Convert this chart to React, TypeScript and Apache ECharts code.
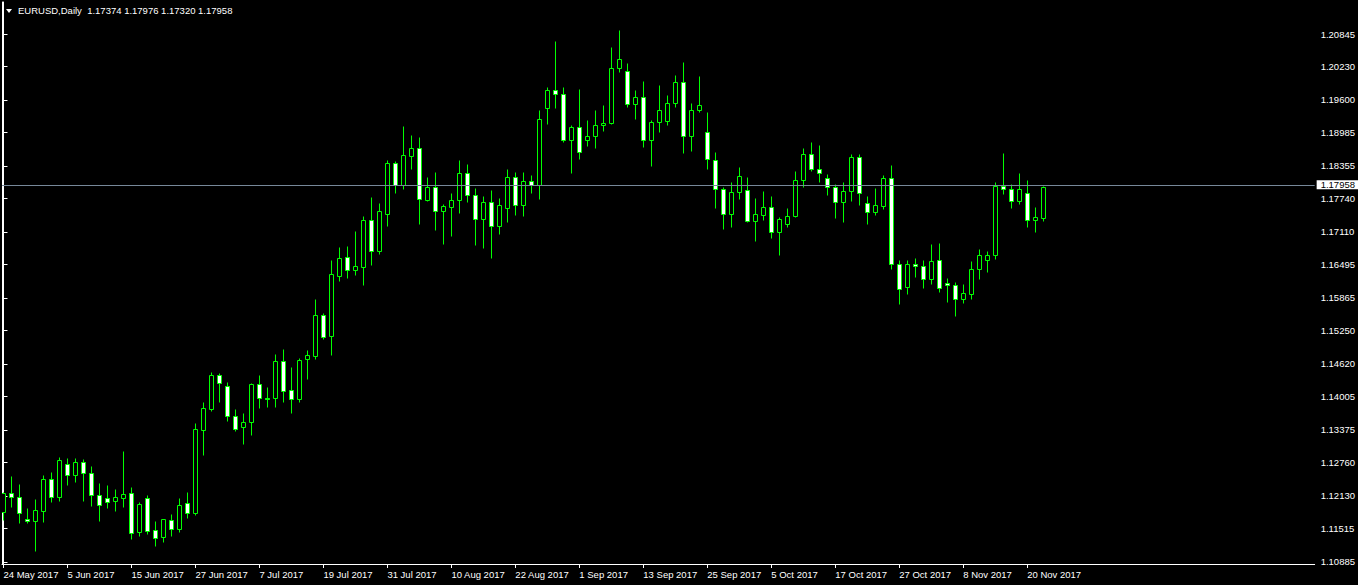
import React, { useEffect, useRef } from "react";
import * as echarts from "echarts";

// ---- data (EURUSD Daily, from 24 May 2017, one bar per weekday) ----
const opens = [
  1.11820, 1.12179, 1.12103, 1.11688, 1.11651, 1.11851, 1.12443, 1.12115, 1.12726, 1.12530,
  1.12764, 1.12556, 1.12141, 1.12085, 1.12028, 1.12096, 1.12179, 1.11443, 1.12085, 1.11481,
  1.11349, 1.11670, 1.11511, 1.11990, 1.11813, 1.13379, 1.13775, 1.14405, 1.14198, 1.13632,
  1.13436, 1.13519, 1.14236, 1.13983, 1.13983, 1.14670, 1.14122, 1.13964, 1.14719, 1.14775,
  1.15537, 1.15153, 1.16285, 1.16632, 1.16398, 1.16454, 1.17330, 1.16756, 1.17454, 1.18405,
  1.18002, 1.18549, 1.18688, 1.17719, 1.17953, 1.17500, 1.17575, 1.17707, 1.18217, 1.17802,
  1.17349, 1.17670, 1.17217, 1.17556, 1.18141, 1.17613, 1.18066, 1.17990, 1.19443, 1.19783,
  1.19707, 1.18839, 1.19085, 1.18839, 1.18915, 1.19122, 1.19160, 1.20209, 1.20141, 1.19519,
  1.19651, 1.18839, 1.19179, 1.19209, 1.19537, 1.19934, 1.18915, 1.19405, 1.18990, 1.18462,
  1.17915, 1.17443, 1.17858, 1.17896, 1.17311, 1.17424, 1.17575, 1.17103, 1.17254, 1.17405,
  1.18085, 1.18575, 1.18292, 1.18122, 1.17953, 1.17670, 1.17877, 1.18519, 1.17651, 1.17481,
  1.17594, 1.18122, 1.16500, 1.16066, 1.16500, 1.16462, 1.16217, 1.16575, 1.16141, 1.16104,
  1.15851, 1.15945, 1.16405, 1.16575, 1.16670, 1.17971, 1.17915, 1.17688, 1.17839, 1.17330,
  1.17374,
];
const highs = [
  1.12209, 1.12505, 1.12354, 1.11896, 1.12066, 1.12524, 1.12581, 1.12858, 1.12845, 1.12845,
  1.12820, 1.12694, 1.12373, 1.12336, 1.12260, 1.12977, 1.12298, 1.12015, 1.12147, 1.11656,
  1.11695, 1.11788, 1.12090, 1.12203, 1.13505, 1.13902, 1.14468, 1.14443, 1.14279, 1.13770,
  1.13694, 1.14254, 1.14411, 1.14185, 1.14807, 1.14902, 1.14562, 1.14732, 1.14883, 1.15845,
  1.15575, 1.16581, 1.16826, 1.16845, 1.17128, 1.17411, 1.17764, 1.17656, 1.18462, 1.18443,
  1.19109, 1.18939, 1.18902, 1.18147, 1.18241, 1.17632, 1.17839, 1.18468, 1.18392, 1.17934,
  1.17783, 1.17896, 1.17745, 1.18298, 1.18236, 1.18236, 1.18185, 1.19411, 1.19839, 1.20713,
  1.19839, 1.19128, 1.19807, 1.19222, 1.19411, 1.19505, 1.20600, 1.20920, 1.20298, 1.19783,
  1.19953, 1.19217, 1.19877, 1.19688, 1.20071, 1.20317, 1.19537, 1.20047, 1.19373, 1.18619,
  1.17964, 1.18047, 1.18330, 1.18141, 1.17745, 1.17877, 1.17783, 1.17387, 1.17556, 1.18254,
  1.18688, 1.18802, 1.18745, 1.18198, 1.18009, 1.18047, 1.18581, 1.18581, 1.17783, 1.17934,
  1.18179, 1.18368, 1.16575, 1.16575, 1.16613, 1.16575, 1.16883, 1.16902, 1.16236, 1.16166,
  1.16128, 1.16562, 1.16788, 1.16745, 1.18053, 1.18600, 1.18009, 1.18222, 1.18085, 1.17575,
  1.17976,
];
const lows = [
  1.11675, 1.11926, 1.11613, 1.11613, 1.11096, 1.11643, 1.12020, 1.12034, 1.12336, 1.12392,
  1.12034, 1.11945, 1.11662, 1.11907, 1.11851, 1.11926, 1.11317, 1.11379, 1.11411, 1.11190,
  1.11266, 1.11379, 1.11454, 1.11718, 1.11769, 1.12902, 1.13737, 1.13907, 1.13549, 1.13354,
  1.13115, 1.13285, 1.13788, 1.13807, 1.13807, 1.13907, 1.13694, 1.13907, 1.14341, 1.14713,
  1.15090, 1.14788, 1.16185, 1.16241, 1.16298, 1.16109, 1.16487, 1.16694, 1.17222, 1.17851,
  1.17920, 1.18298, 1.17266, 1.17700, 1.17153, 1.16888, 1.17039, 1.17473, 1.17681, 1.16870,
  1.16813, 1.16624, 1.17077, 1.17304, 1.17436, 1.17405, 1.17839, 1.17732, 1.19153, 1.19454,
  1.18802, 1.18228, 1.18492, 1.18726, 1.18688, 1.19015, 1.19141, 1.20134, 1.19473, 1.19247,
  1.18719, 1.18360, 1.19002, 1.19134, 1.19473, 1.18605, 1.18643, 1.19368, 1.18304, 1.17568,
  1.17171, 1.17209, 1.17726, 1.17292, 1.16945, 1.17341, 1.16990, 1.16681, 1.17198, 1.17387,
  1.17953, 1.18254, 1.18047, 1.17802, 1.17368, 1.17292, 1.17688, 1.17624, 1.17254, 1.17424,
  1.17537, 1.16405, 1.15745, 1.15934, 1.16254, 1.16058, 1.16122, 1.15983, 1.15794, 1.15530,
  1.15775, 1.15851, 1.16228, 1.16360, 1.16605, 1.17832, 1.17568, 1.17643, 1.17209, 1.17115,
  1.17320,
];
const closes = [
  1.12190, 1.12103, 1.11802, 1.11651, 1.11858, 1.12443, 1.12115, 1.12801, 1.12530, 1.12764,
  1.12556, 1.12141, 1.11953, 1.12020, 1.12103, 1.12160, 1.11436, 1.11971, 1.11473, 1.11341,
  1.11688, 1.11511, 1.11953, 1.11813, 1.13386, 1.13783, 1.14405, 1.14254, 1.13632, 1.13398,
  1.13519, 1.14236, 1.13983, 1.13964, 1.14670, 1.14115, 1.13964, 1.14688, 1.14788, 1.15537,
  1.15134, 1.16311, 1.16613, 1.16398, 1.16468, 1.17330, 1.16756, 1.17500, 1.18405, 1.18002,
  1.18556, 1.18688, 1.17726, 1.17953, 1.17500, 1.17594, 1.17707, 1.18217, 1.17802, 1.17349,
  1.17670, 1.17217, 1.17613, 1.18141, 1.17613, 1.18066, 1.17990, 1.19236, 1.19783, 1.19707,
  1.18839, 1.19085, 1.18613, 1.18915, 1.19128, 1.19160, 1.20198, 1.20373, 1.19519, 1.19651,
  1.18839, 1.19179, 1.19405, 1.19537, 1.19934, 1.18915, 1.19405, 1.19500, 1.18481, 1.17915,
  1.17443, 1.17858, 1.18160, 1.17311, 1.17443, 1.17575, 1.17103, 1.17349, 1.17405, 1.18085,
  1.18575, 1.18292, 1.18217, 1.17953, 1.17670, 1.17877, 1.18519, 1.17839, 1.17481, 1.17613,
  1.18122, 1.16500, 1.16028, 1.16500, 1.16462, 1.16217, 1.16556, 1.16047, 1.16104, 1.15851,
  1.15953, 1.16405, 1.16670, 1.16670, 1.17971, 1.17915, 1.17688, 1.17915, 1.17330, 1.17387,
  1.17958,
];

const symbolName = "EURUSD,Daily";
const firstDate = [2017, 4, 24]; // 24 May 2017 (month is 0-based)
const monthNames = ["Jan", "Feb", "Mar", "Apr", "May", "Jun", "Jul", "Aug", "Sep", "Oct", "Nov", "Dec"];
const xTickIndices = [0, 8, 16, 24, 32, 40, 48, 56, 64, 72, 80, 88, 96, 104, 112, 120, 128];
const yTickLabels = [
  "1.10885", "1.11515", "1.12130", "1.12760", "1.13375", "1.14005", "1.14620", "1.15250",
  "1.15865", "1.16495", "1.17110", "1.17740", "1.18355", "1.18985", "1.19600", "1.20230", "1.20845",
];

// weekday calendar labels for each bar
function buildDates(n: number): string[] {
  const out: string[] = [];
  let t = Date.UTC(firstDate[0], firstDate[1], firstDate[2]);
  while (out.length < n) {
    const d = new Date(t);
    const wd = d.getUTCDay();
    if (wd !== 0 && wd !== 6) {
      out.push(`${d.getUTCDate()} ${monthNames[d.getUTCMonth()]} ${d.getUTCFullYear()}`);
    }
    t += 86400000;
  }
  return out;
}

const FONT = "'Liberation Sans', Arial, sans-serif";
const GREEN = "#00FF00";

export default function App() {
  const ref = useRef<HTMLDivElement>(null);

  useEffect(() => {
    if (!ref.current) return;
    const chart = echarts.init(ref.current, null, { renderer: "svg" });
    const n = opens.length;
    const dates = buildDates(n);
    const candles = opens.map((o, i) => [i, o, closes[i], lows[i], highs[i]]);
    const lastO = opens[n - 1], lastH = highs[n - 1], lastL = lows[n - 1], lastC = closes[n - 1];

    const xMin = -0.1875;
    const xMax = xMin + 1313 / 8;
    const yMax = 1.214488;
    const yMin = 1.10845;

    chart.setOption({
      animation: false,
      backgroundColor: "#000000",
      grid: { left: 2, right: 43, top: 2, bottom: 21, containLabel: false },
      xAxis: {
        type: "value",
        min: xMin,
        max: xMax,
        splitLine: { show: false },
        axisLine: { show: true, lineStyle: { color: "#FFFFFF", width: 1 } },
        axisTick: { show: true, customValues: xTickIndices, length: 4, lineStyle: { color: "#FFFFFF" } },
        axisLabel: {
          show: true,
          customValues: xTickIndices,
          formatter: (v: number) => dates[Math.round(v)] ?? "",
          color: "#FFFFFF",
          fontFamily: FONT,
          fontSize: 9.5,
          align: "left",
          margin: 5,
        },
      },
      yAxis: [
        {
          type: "value",
          position: "right",
          min: yMin,
          max: yMax,
          splitLine: { show: false },
          axisLine: { show: true, lineStyle: { color: "#FFFFFF", width: 1 } },
          axisTick: { show: true, customValues: yTickLabels.map(Number), length: 4, lineStyle: { color: "#FFFFFF" } },
          axisLabel: {
            show: true,
            customValues: yTickLabels.map(Number),
            formatter: (v: number) => v.toFixed(5),
            color: "#FFFFFF",
            fontFamily: FONT,
            fontSize: 9.5,
            margin: 6,
          },
        },
        {
          type: "value",
          position: "left",
          min: yMin,
          max: yMax,
          splitLine: { show: false },
          axisLine: { show: true, lineStyle: { color: "#FFFFFF", width: 1 } },
          axisTick: { show: false },
          axisLabel: { show: false },
        },
      ],
      series: [
        {
          type: "line",
          z: 1,
          data: closes.map((c, i) => [i, c]),
          showSymbol: false,
          silent: true,
          lineStyle: { opacity: 0 },
          markLine: {
            silent: true,
            symbol: ["none", "none"],
            data: [{ yAxis: lastC }],
            lineStyle: { color: "#778899", width: 1, type: "solid" },
            label: {
              show: true,
              position: "end",
              distance: 2,
              formatter: lastC.toFixed(5),
              color: "#000000",
              backgroundColor: "#FFFFFF",
              fontFamily: FONT,
              fontSize: 9.5,
              lineHeight: 8,
              padding: [1, 10, 0, 4],
            },
          },
        },
        {
          type: "custom",
          z: 2,
          clip: true,
          data: candles,
          encode: { x: 0, y: [1, 2, 3, 4] },
          renderItem: (params: any, api: any) => {
            const i = api.value(0);
            const o = api.value(1);
            const c = api.value(2);
            const l = api.value(3);
            const h = api.value(4);
            const pO = api.coord([i, o]);
            const pC = api.coord([i, c]);
            const pL = api.coord([i, l]);
            const pH = api.coord([i, h]);
            const cx = Math.floor(pO[0]) + 0.5;
            const yH = Math.round(pH[1]) + 0.5;
            const yL = Math.round(pL[1]) + 0.5;
            const yTop = Math.round(Math.min(pO[1], pC[1])) + 0.5;
            const yBot = Math.round(Math.max(pO[1], pC[1])) + 0.5;
            const bull = c > o;
            return {
              type: "group",
              children: [
                {
                  type: "line",
                  shape: { x1: cx, y1: yH, x2: cx, y2: yL },
                  style: { stroke: GREEN, lineWidth: 1 },
                },
                {
                  type: "rect",
                  shape: { x: cx - 2, y: yTop, width: 4, height: Math.max(yBot - yTop, 1) },
                  style: { fill: bull ? "#000000" : "#FFFFFF", stroke: GREEN, lineWidth: 1 },
                },
              ],
            };
          },
        },
      ],
      graphic: [
        {
          type: "polygon",
          shape: { points: [[6, 9], [12, 9], [9, 13]] },
          style: { fill: "#FFFFFF" },
        },
        {
          type: "text",
          x: 18,
          y: 10,
          style: {
            text: `${symbolName}  ${lastO.toFixed(5)} ${lastH.toFixed(5)} ${lastL.toFixed(5)} ${lastC.toFixed(5)}`,
            fill: "#FFFFFF",
            font: `9.5px ${FONT}`,
            verticalAlign: "middle",
          },
        },
      ],
    });

    return () => chart.dispose();
  }, []);

  return (
    <div
      ref={ref}
      style={{ position: "absolute", left: 0, top: 0, width: 1358, height: 585, background: "#000" }}
    />
  );
}
